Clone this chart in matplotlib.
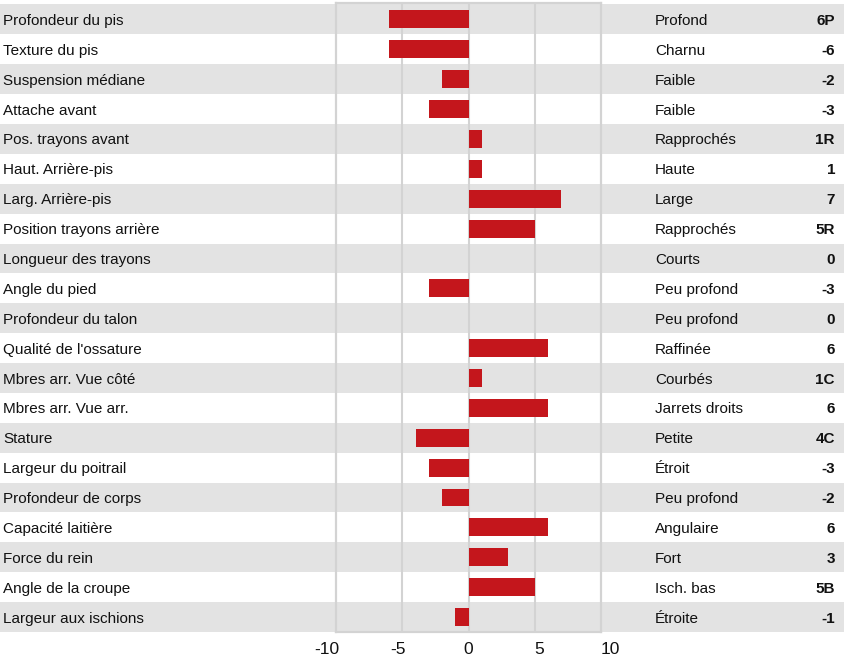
import matplotlib
matplotlib.use("Agg")
import matplotlib.pyplot as plt
from matplotlib.patches import Rectangle
from matplotlib.transforms import blended_transform_factory

traits = ["Profondeur du pis", "Texture du pis", "Suspension médiane", "Attache avant",
          "Pos. trayons avant", "Haut. Arrière-pis", "Larg. Arrière-pis",
          "Position trayons arrière", "Longueur des trayons", "Angle du pied",
          "Profondeur du talon", "Qualité de l'ossature", "Mbres arr. Vue côté",
          "Mbres arr. Vue arr.", "Stature", "Largeur du poitrail", "Profondeur de corps",
          "Capacité laitière", "Force du rein", "Angle de la croupe", "Largeur aux ischions"]
values = [-6, -6, -2, -3, 1, 1, 7, 5, 0, -3, 0, 6, 1, 6, -4, -3, -2, 6, 3, 5, -1]
descriptors = ["Profond", "Charnu", "Faible", "Faible", "Rapprochés", "Haute", "Large",
               "Rapprochés", "Courts", "Peu profond", "Peu profond", "Raffinée", "Courbés",
               "Jarrets droits", "Petite", "Étroit", "Peu profond", "Angulaire", "Fort",
               "Isch. bas", "Étroite"]
codes = ["6P", "-6", "-2", "-3", "1R", "1", "7", "5R", "0", "-3", "0", "6", "1C", "6",
         "4C", "-3", "-2", "6", "3", "5B", "-1"]
xticks = [-10, -5, 0, 5, 10]

plt.rcParams['font.family'] = ['Liberation Sans', 'DejaVu Sans']

W, H = 844, 660
fig = plt.figure(figsize=(W / 100, H / 100), dpi=100)

left_px, right_px = 336, 601
top_px, bot_px = 3, 632
ax = fig.add_axes([left_px / W, 1 - bot_px / H, (right_px - left_px) / W, (bot_px - top_px) / H])
ax.set_facecolor('none')
n = len(traits)
ax.set_xlim(-10, 10)
ax.set_ylim(n - 0.5, -0.55)

band_color = '#e3e3e3'
trans_band = blended_transform_factory(fig.transFigure, ax.transData)
for i in range(n):
    if i % 2 == 0:
        ax.add_patch(Rectangle((0, i - 0.5), 1, 1.0, transform=trans_band,
                               facecolor=band_color, edgecolor='none', zorder=0,
                               clip_on=False))

for x in [-5, 0, 5]:
    ax.axvline(x, color='#d3d3d3', lw=1.5, zorder=1)

ax.barh(range(n), values, height=0.6, color='#c4161c', zorder=2)

for s in ax.spines.values():
    s.set_color('#d3d3d3')
    s.set_linewidth(1.6)
    s.set_zorder(2.5)

ax.set_xticks([])
ax.set_yticks([])
# tick labels are spread slightly wider than the gridlines in the reference
label_spread = 1.068
trans_tick = blended_transform_factory(ax.transData, fig.transFigure)
for t in xticks:
    ax.text(t * label_spread, 1 - 650 / H, str(t), transform=trans_tick, ha='center',
            va='center', fontsize=12.5, color='#111111', clip_on=False)

for i in range(n):
    ax.text(3 / W, i, traits[i], transform=trans_band, ha='left', va='center_baseline',
            fontsize=11, color='#111111', zorder=3)
    ax.text(655 / W, i, descriptors[i], transform=trans_band, ha='left', va='center_baseline',
            fontsize=11, color='#111111', zorder=3)
    ax.text(835 / W, i, codes[i], transform=trans_band, ha='right', va='center_baseline',
            fontsize=11, fontweight='bold', color='#111111', zorder=3)

fig.savefig("out.png", dpi=100)
